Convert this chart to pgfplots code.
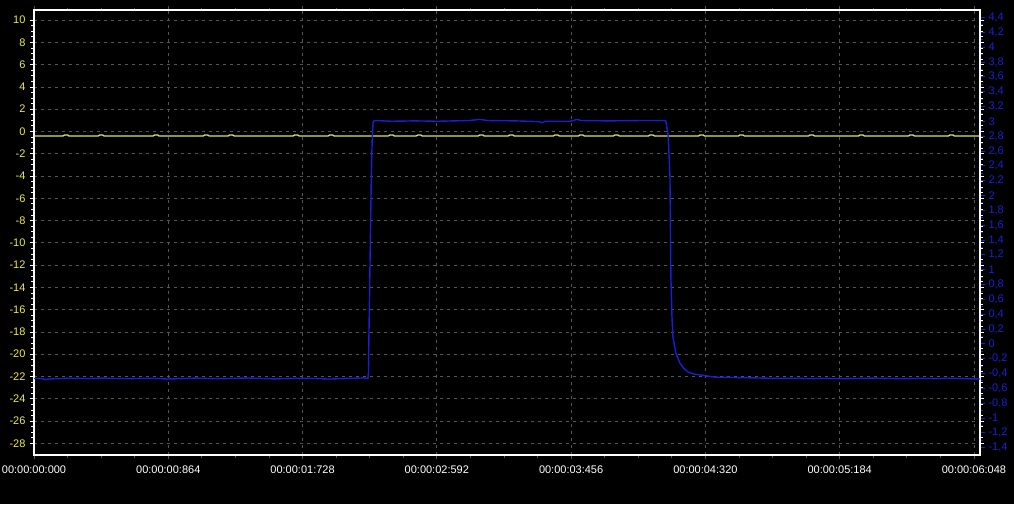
\documentclass[border=0pt]{standalone}
\usepackage{fontspec}
\setmainfont{Liberation Sans}
\usepackage{pgfplots}
\pgfplotsset{compat=1.18}
\definecolor{ylab}{RGB}{235,235,70}
\definecolor{yline}{RGB}{225,225,100}
\definecolor{bline}{RGB}{25,30,215}
\definecolor{blab}{RGB}{30,30,215}
\definecolor{gridc}{RGB}{85,85,85}
\begin{document}
\begin{tikzpicture}[x=1pt,y=1pt]
\fill[black] (0,0) rectangle (1014,-504);
\useasboundingbox (0,0) rectangle (1014,-504);
\begin{axis}[
  scale only axis, width=946pt, height=445pt,
  at={(34pt,-455pt)}, anchor=south west,
  xmin=0, xmax=6.087, ymin=-29.05, ymax=10.9,
  xtick={0,0.864,1.728,2.592,3.456,4.32,5.184,6.048},
  xticklabels={00:00:00:000,00:00:00:864,00:00:01:728,00:00:02:592,00:00:03:456,00:00:04:320,00:00:05:184,00:00:06:048},
  ytick={-28,-26,-24,-22,-20,-18,-16,-14,-12,-10,-8,-6,-4,-2,0,2,4,6,8,10},
  minor x tick num=3, minor y tick num=3,
  grid=major,
  major grid style={gridc, dash pattern=on 3pt off 4pt, line width=0.7pt},
  axis line style={white, line width=2pt},
  tick align=outside,
  x tick style={gridc, line width=0.8pt},
  y tick style={white, line width=0.7pt},
  major tick length=4pt, minor tick length=2.5pt,
  font=\fontsize{11}{13}\selectfont,
  xticklabel style={white, yshift=-3pt},
  yticklabel style={ylab, xshift=-1pt},
  /pgf/number format/assume math mode=true,
  clip=true,
]
\addplot[yline, line width=1.3pt] coordinates {
(0,-0.42)(0.186,-0.42)(0.196,-0.32)(0.216,-0.32)(0.226,-0.42)
(0.412,-0.42)(0.422,-0.32)(0.442,-0.32)(0.452,-0.42)
(0.766,-0.42)(0.776,-0.32)(0.796,-0.32)(0.806,-0.42)
(1.088,-0.42)(1.098,-0.32)(1.118,-0.32)(1.128,-0.42)
(1.249,-0.42)(1.259,-0.32)(1.279,-0.32)(1.289,-0.42)
(1.667,-0.42)(1.677,-0.32)(1.697,-0.32)(1.707,-0.42)
(1.892,-0.42)(1.902,-0.32)(1.922,-0.32)(1.932,-0.42)
(2.279,-0.42)(2.289,-0.32)(2.309,-0.32)(2.319,-0.42)
(2.459,-0.42)(2.469,-0.32)(2.489,-0.32)(2.499,-0.42)
(2.858,-0.42)(2.868,-0.32)(2.888,-0.32)(2.898,-0.42)
(3.051,-0.42)(3.061,-0.32)(3.081,-0.32)(3.091,-0.42)
(3.341,-0.42)(3.351,-0.32)(3.371,-0.32)(3.381,-0.42)
(3.502,-0.42)(3.512,-0.32)(3.532,-0.32)(3.542,-0.42)
(3.727,-0.42)(3.737,-0.32)(3.757,-0.32)(3.767,-0.42)
(3.953,-0.42)(3.963,-0.32)(3.983,-0.32)(3.993,-0.42)
(4.275,-0.42)(4.285,-0.32)(4.305,-0.32)(4.315,-0.42)
(4.532,-0.42)(4.542,-0.32)(4.562,-0.32)(4.572,-0.42)
(4.983,-0.42)(4.993,-0.32)(5.013,-0.32)(5.023,-0.42)
(5.304,-0.42)(5.314,-0.32)(5.334,-0.32)(5.344,-0.42)
(5.626,-0.42)(5.636,-0.32)(5.656,-0.32)(5.666,-0.42)
(5.883,-0.42)(5.893,-0.32)(5.913,-0.32)(5.923,-0.42)
(6.087,-0.42)
};
\end{axis}
\begin{axis}[
  scale only axis, width=946pt, height=445pt,
  at={(34pt,-455pt)}, anchor=south west,
  xmin=0, xmax=6.087, ymin=-1.5, ymax=4.5,
  axis x line=none, axis y line*=right,
  axis line style={white, line width=2pt, -},
  ytick={-1.4,-1.2,-1,-0.8,-0.6,-0.4,-0.2,0,0.2,0.4,0.6,0.8,1,1.2,1.4,1.6,1.8,2,2.2,2.4,2.6,2.8,3,3.2,3.4,3.6,3.8,4,4.2,4.4},
  minor y tick num=1,
  tick align=outside,
  y tick style={blab, line width=0.7pt},
  major tick length=5pt, minor tick length=3pt,
  font=\fontsize{11}{13}\selectfont,
  yticklabel style={blab, xshift=0pt},
  /pgf/number format/.cd, use comma, assume math mode=true,
]
\addplot[bline, line width=1.4pt] coordinates {
(0.000,-0.468)(0.050,-0.470)(0.070,-0.482)(0.100,-0.475)(0.180,-0.468)
(0.260,-0.465)(0.350,-0.470)(0.430,-0.462)(0.520,-0.468)(0.600,-0.472)
(0.700,-0.466)(0.780,-0.468)(0.860,-0.475)(0.950,-0.470)(1.040,-0.463)
(1.120,-0.468)(1.200,-0.472)(1.290,-0.466)(1.380,-0.462)(1.460,-0.468)
(1.550,-0.474)(1.640,-0.470)(1.720,-0.465)(1.800,-0.468)(1.900,-0.476)
(1.980,-0.470)(2.060,-0.465)(2.120,-0.460)(2.148,-0.468)
(2.152,-0.40)(2.155,0.10)(2.170,2.20)(2.176,2.75)(2.182,2.99)(2.192,3.01)
(2.30,3.00)(2.45,3.005)(2.60,3.00)(2.80,3.01)(2.868,3.025)(2.92,3.01)
(3.10,3.005)(3.25,2.995)(3.267,2.98)(3.29,3.00)(3.45,3.00)(3.493,3.025)
(3.52,3.01)(3.70,3.005)(3.90,3.01)(4.060,3.01)(4.066,3.00)
(4.081,2.79)(4.092,2.25)(4.098,0.90)(4.105,0.36)(4.111,0.09)(4.130,-0.125)
(4.156,-0.26)(4.180,-0.33)(4.207,-0.38)(4.250,-0.41)(4.285,-0.42)
(4.381,-0.45)(4.50,-0.455)(4.671,-0.462)
(4.80,-0.468)(4.90,-0.465)(5.00,-0.470)(5.10,-0.466)(5.20,-0.472)
(5.30,-0.468)(5.40,-0.463)(5.50,-0.468)(5.60,-0.472)(5.70,-0.467)
(5.80,-0.470)(5.90,-0.465)(6.00,-0.472)(6.087,-0.475)
};
\end{axis}
\end{tikzpicture}
\end{document}
